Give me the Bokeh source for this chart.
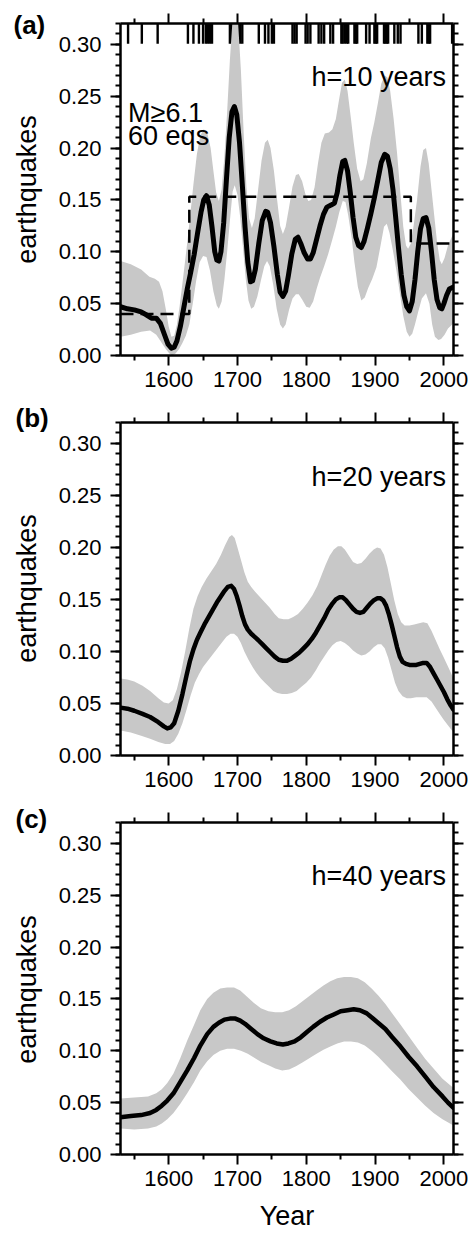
import math
from bokeh.plotting import figure
from bokeh.layouts import column, row
from bokeh.models import LinearAxis, FixedTicker, PrintfTickFormatter, Label
from bokeh.core.properties import value
from bokeh.embed import file_html
from bokeh.resources import INLINE

# ---------------- data ----------------
events = [1541, 1561, 1584, 1628, 1636, 1644, 1650, 1654, 1657, 1660, 1663,
          1689, 1692, 1695, 1698, 1701, 1704, 1707, 1731, 1740, 1745, 1750,
          1753, 1780, 1783, 1786, 1799, 1802, 1806, 1818, 1822, 1826, 1835,
          1839, 1851, 1853, 1856, 1859, 1861, 1870, 1872, 1874, 1887, 1892,
          1899, 1901, 1903, 1913, 1915, 1917, 1919, 1928, 1933, 1937, 1963,
          1968, 1976, 1978, 1980, 2012]

step_years = [1530, 1630, 1952, 2008]
step_rates = [0.040, 0.153, 0.108]

curve_a_year = [1530, 1540, 1550, 1560, 1568, 1575, 1582, 1588, 1594, 1599, 1604, 1608,
                1612, 1617, 1622, 1627, 1632, 1637, 1642, 1647, 1651, 1655, 1659, 1663,
                1667, 1670, 1673, 1676, 1680, 1684, 1688, 1692, 1695.5, 1699, 1703, 1707,
                1711, 1715, 1719, 1722, 1726, 1731, 1736, 1741, 1744, 1748, 1753, 1758,
                1762, 1766, 1770, 1774, 1779, 1784, 1788, 1792, 1797, 1802, 1806, 1810,
                1815, 1820, 1825, 1830, 1836, 1841, 1845, 1849, 1853, 1856, 1860, 1864,
                1868, 1872, 1876, 1880, 1884, 1889, 1894, 1899, 1904, 1909, 1914, 1918,
                1922, 1926, 1930, 1934, 1938, 1942, 1946, 1950, 1954, 1958, 1962, 1966,
                1970, 1974, 1978, 1982, 1986, 1990, 1994, 1997, 2000, 2004, 2008, 2014]
curve_a_val = [0.047, 0.045, 0.044, 0.042, 0.039, 0.036, 0.036, 0.031, 0.020, 0.011, 0.007, 0.008,
               0.014, 0.028, 0.046, 0.064, 0.080, 0.097, 0.118, 0.138, 0.150, 0.154, 0.145, 0.124,
               0.100, 0.092, 0.091, 0.100, 0.128, 0.170, 0.210, 0.235, 0.240, 0.232, 0.205, 0.165,
               0.124, 0.090, 0.071, 0.072, 0.083, 0.108, 0.130, 0.139, 0.138, 0.128, 0.105, 0.078,
               0.061, 0.057, 0.062, 0.077, 0.098, 0.112, 0.114, 0.108, 0.099, 0.093, 0.093, 0.099,
               0.112, 0.125, 0.136, 0.143, 0.145, 0.147, 0.157, 0.174, 0.187, 0.188, 0.178, 0.157,
               0.133, 0.114, 0.106, 0.104, 0.110, 0.123, 0.137, 0.152, 0.169, 0.186, 0.194, 0.192,
               0.180, 0.160, 0.133, 0.104, 0.078, 0.058, 0.047, 0.043, 0.052, 0.073, 0.100, 0.122,
               0.132, 0.133, 0.123, 0.100, 0.073, 0.054, 0.046, 0.045, 0.050, 0.058, 0.064, 0.066]
upper_a_year = [1530, 1545, 1560, 1572, 1580, 1586, 1591, 1596, 1600, 1604, 1608, 1612,
                1616, 1621, 1626, 1631, 1636, 1641, 1646, 1651, 1656, 1661, 1665, 1669,
                1673, 1677, 1681, 1685, 1689, 1693, 1697, 1701, 1705, 1709, 1713, 1717,
                1721, 1725, 1730, 1735, 1740, 1744, 1748, 1753, 1758, 1762, 1766, 1770,
                1775, 1780, 1785, 1789, 1794, 1799, 1803, 1807, 1812, 1817, 1822, 1827,
                1833, 1838, 1843, 1848, 1852, 1856, 1860, 1865, 1869, 1874, 1879, 1883,
                1888, 1894, 1899, 1904, 1909, 1914, 1918, 1922, 1927, 1932, 1937, 1941,
                1945, 1948, 1952, 1956, 1961, 1966, 1970, 1974, 1978, 1982, 1986, 1990,
                1994, 1997, 2001, 2006, 2014]
upper_a_val = [0.091, 0.088, 0.083, 0.076, 0.074, 0.071, 0.062, 0.044, 0.028, 0.018, 0.019, 0.030,
               0.048, 0.075, 0.103, 0.133, 0.165, 0.194, 0.212, 0.218, 0.215, 0.200, 0.178, 0.157,
               0.149, 0.160, 0.192, 0.235, 0.285, 0.325, 0.335, 0.320, 0.275, 0.215, 0.163, 0.132,
               0.123, 0.132, 0.160, 0.188, 0.205, 0.208, 0.200, 0.178, 0.148, 0.125, 0.117, 0.124,
               0.143, 0.163, 0.174, 0.175, 0.168, 0.155, 0.149, 0.150, 0.162, 0.185, 0.205, 0.214,
               0.215, 0.218, 0.228, 0.248, 0.263, 0.266, 0.255, 0.228, 0.205, 0.180, 0.168, 0.170,
               0.185, 0.210, 0.225, 0.243, 0.262, 0.270, 0.268, 0.255, 0.228, 0.195, 0.155, 0.124,
               0.106, 0.103, 0.108, 0.125, 0.150, 0.182, 0.198, 0.200, 0.185, 0.160, 0.135, 0.110,
               0.092, 0.088, 0.094, 0.106, 0.118]
lower_a_year = [1530, 1545, 1560, 1573, 1582, 1590, 1596, 1601, 1605, 1610, 1615, 1620,
                1625, 1630, 1635, 1640, 1645, 1650, 1655, 1660, 1665, 1670, 1673, 1677,
                1681, 1685, 1689, 1693, 1696, 1700, 1704, 1708, 1712, 1716, 1720, 1724,
                1729, 1734, 1739, 1743, 1747, 1752, 1757, 1762, 1766, 1770, 1775, 1780,
                1785, 1789, 1794, 1800, 1805, 1810, 1815, 1820, 1826, 1832, 1838, 1843,
                1848, 1853, 1857, 1861, 1866, 1870, 1875, 1880, 1885, 1890, 1896, 1902,
                1908, 1913, 1917, 1921, 1926, 1931, 1936, 1941, 1946, 1950, 1954, 1958,
                1963, 1968, 1974, 1979, 1983, 1987, 1992, 1996, 2001, 2006, 2014]
lower_a_val = [0.018, 0.020, 0.023, 0.024, 0.020, 0.012, 0.006, 0.002, 0.000, 0.002, 0.006, 0.012,
               0.019, 0.030, 0.050, 0.072, 0.090, 0.096, 0.095, 0.082, 0.062, 0.048, 0.045, 0.052,
               0.073, 0.100, 0.130, 0.158, 0.164, 0.155, 0.133, 0.104, 0.074, 0.053, 0.045, 0.047,
               0.057, 0.072, 0.086, 0.091, 0.086, 0.068, 0.045, 0.030, 0.026, 0.030, 0.044, 0.055,
               0.059, 0.059, 0.054, 0.047, 0.046, 0.052, 0.064, 0.075, 0.086, 0.098, 0.112, 0.124,
               0.138, 0.149, 0.148, 0.135, 0.113, 0.090, 0.066, 0.053, 0.056, 0.065, 0.074, 0.085,
               0.106, 0.124, 0.127, 0.118, 0.101, 0.082, 0.060, 0.038, 0.023, 0.018, 0.021, 0.030,
               0.043, 0.055, 0.060, 0.050, 0.030, 0.018, 0.015, 0.016, 0.020, 0.026, 0.031]

curve_b_year = [1530, 1540, 1550, 1562, 1573, 1585, 1593, 1598, 1603, 1608, 1614, 1620,
                1626, 1631, 1636, 1641, 1646, 1652, 1658, 1664, 1670, 1676, 1681, 1686,
                1691, 1695, 1699, 1703, 1707, 1711, 1715, 1720, 1725, 1730, 1736, 1742,
                1748, 1754, 1760, 1766, 1772, 1778, 1784, 1790, 1796, 1802, 1808, 1814,
                1820, 1826, 1832, 1838, 1843, 1848, 1853, 1858, 1863, 1868, 1873, 1878,
                1883, 1888, 1893, 1898, 1903, 1908, 1912, 1916, 1920, 1924, 1928, 1932,
                1936, 1940, 1945, 1950, 1955, 1960, 1965, 1970, 1975, 1980, 1985, 1990,
                1995, 2000, 2005, 2010, 2014]
curve_b_val = [0.046, 0.045, 0.043, 0.040, 0.037, 0.032, 0.028, 0.026, 0.027, 0.031, 0.043, 0.059,
               0.077, 0.091, 0.102, 0.111, 0.118, 0.126, 0.133, 0.140, 0.147, 0.153, 0.158, 0.162,
               0.163, 0.160, 0.153, 0.144, 0.134, 0.126, 0.121, 0.117, 0.114, 0.111, 0.107, 0.103,
               0.099, 0.095, 0.092, 0.091, 0.091, 0.093, 0.096, 0.099, 0.103, 0.107, 0.112, 0.118,
               0.125, 0.132, 0.140, 0.146, 0.150, 0.152, 0.152, 0.149, 0.145, 0.141, 0.138, 0.137,
               0.138, 0.142, 0.146, 0.149, 0.151, 0.151, 0.149, 0.144, 0.136, 0.126, 0.115, 0.104,
               0.095, 0.090, 0.088, 0.087, 0.087, 0.087, 0.088, 0.089, 0.089, 0.085, 0.079, 0.073,
               0.067, 0.061, 0.054, 0.048, 0.044]
upper_b_year = [1530, 1540, 1550, 1562, 1573, 1585, 1593, 1600, 1606, 1612, 1618, 1624,
                1630, 1636, 1642, 1648, 1655, 1662, 1669, 1676, 1682, 1688, 1692, 1696,
                1700, 1705, 1710, 1715, 1720, 1726, 1733, 1740, 1747, 1754, 1760, 1767,
                1774, 1781, 1788, 1795, 1802, 1809, 1816, 1822, 1828, 1834, 1840, 1846,
                1851, 1856, 1862, 1868, 1874, 1880, 1886, 1892, 1898, 1903, 1908, 1913,
                1918, 1923, 1928, 1933, 1938, 1943, 1950, 1957, 1964, 1970, 1976, 1982,
                1988, 1994, 2000, 2007, 2014]
upper_b_val = [0.074, 0.073, 0.071, 0.067, 0.062, 0.055, 0.051, 0.050, 0.053, 0.064, 0.080, 0.100,
               0.122, 0.141, 0.153, 0.162, 0.170, 0.177, 0.184, 0.193, 0.202, 0.210, 0.212, 0.209,
               0.200, 0.188, 0.176, 0.167, 0.162, 0.157, 0.152, 0.147, 0.142, 0.136, 0.132, 0.131,
               0.131, 0.133, 0.136, 0.141, 0.147, 0.154, 0.163, 0.173, 0.183, 0.192, 0.198, 0.201,
               0.201, 0.198, 0.192, 0.186, 0.184, 0.185, 0.189, 0.194, 0.198, 0.200, 0.199, 0.193,
               0.181, 0.165, 0.149, 0.136, 0.128, 0.125, 0.125, 0.126, 0.127, 0.128, 0.127, 0.120,
               0.111, 0.102, 0.094, 0.084, 0.074]
lower_b_year = [1530, 1545, 1560, 1573, 1585, 1595, 1602, 1608, 1614, 1620, 1626, 1632,
                1638, 1644, 1650, 1657, 1664, 1671, 1678, 1684, 1690, 1695, 1700, 1705,
                1710, 1716, 1722, 1728, 1734, 1740, 1746, 1752, 1758, 1765, 1772, 1779,
                1786, 1793, 1800, 1807, 1814, 1820, 1826, 1832, 1838, 1844, 1850, 1856,
                1862, 1868, 1874, 1880, 1886, 1892, 1898, 1904, 1909, 1914, 1919, 1924,
                1929, 1934, 1940, 1946, 1952, 1960, 1968, 1975, 1982, 1988, 1994, 2000,
                2007, 2014]
lower_b_val = [0.024, 0.022, 0.019, 0.016, 0.013, 0.011, 0.011, 0.014, 0.021, 0.031, 0.044, 0.058,
               0.070, 0.078, 0.085, 0.091, 0.097, 0.103, 0.109, 0.114, 0.117, 0.117, 0.114, 0.108,
               0.100, 0.092, 0.085, 0.079, 0.074, 0.070, 0.066, 0.062, 0.060, 0.059, 0.059, 0.060,
               0.062, 0.066, 0.070, 0.075, 0.082, 0.089, 0.095, 0.101, 0.106, 0.109, 0.110, 0.108,
               0.105, 0.101, 0.098, 0.096, 0.097, 0.100, 0.104, 0.107, 0.107, 0.103, 0.094, 0.082,
               0.070, 0.062, 0.057, 0.055, 0.055, 0.056, 0.056, 0.056, 0.052, 0.046, 0.040, 0.034,
               0.028, 0.022]

curve_c_year = [1530, 1545, 1560, 1573, 1582, 1590, 1598, 1607, 1617, 1627, 1637, 1646,
                1656, 1665, 1673, 1681, 1689, 1697, 1704, 1711, 1720, 1729, 1738, 1748,
                1757, 1766, 1774, 1783, 1792, 1801, 1810, 1820, 1830, 1840, 1850, 1860,
                1869, 1878, 1888, 1897, 1906, 1915, 1925, 1937, 1949, 1961, 1973, 1985,
                1998, 2006, 2014]
curve_c_val = [0.036, 0.037, 0.038, 0.040, 0.043, 0.047, 0.052, 0.059, 0.070, 0.081, 0.093, 0.105,
               0.116, 0.123, 0.127, 0.130, 0.131, 0.131, 0.129, 0.126, 0.121, 0.116, 0.112, 0.109,
               0.107, 0.106, 0.107, 0.109, 0.113, 0.118, 0.123, 0.128, 0.132, 0.135, 0.138, 0.139,
               0.140, 0.139, 0.136, 0.131, 0.126, 0.121, 0.113, 0.104, 0.094, 0.085, 0.075, 0.065,
               0.056, 0.050, 0.045]
upper_c_year = [1530, 1550, 1570, 1582, 1590, 1598, 1607, 1617, 1627, 1637, 1646, 1656,
                1665, 1675, 1685, 1695, 1704, 1714, 1724, 1734, 1745, 1755, 1765, 1775,
                1785, 1795, 1805, 1815, 1825, 1835, 1845, 1855, 1865, 1875, 1885, 1895,
                1905, 1915, 1925, 1937, 1949, 1961, 1973, 1985, 1998, 2014]
upper_c_val = [0.054, 0.055, 0.056, 0.059, 0.063, 0.069, 0.078, 0.093, 0.110, 0.125, 0.139, 0.150,
               0.156, 0.160, 0.161, 0.161, 0.158, 0.152, 0.146, 0.141, 0.138, 0.137, 0.137, 0.139,
               0.143, 0.148, 0.153, 0.158, 0.163, 0.167, 0.170, 0.171, 0.171, 0.170, 0.166, 0.160,
               0.153, 0.145, 0.136, 0.125, 0.114, 0.103, 0.092, 0.083, 0.073, 0.064]
lower_c_year = [1530, 1550, 1570, 1582, 1590, 1598, 1607, 1617, 1627, 1637, 1646, 1656,
                1665, 1675, 1685, 1695, 1705, 1715, 1725, 1735, 1745, 1755, 1765, 1775,
                1785, 1795, 1805, 1815, 1825, 1835, 1845, 1855, 1865, 1875, 1885, 1895,
                1905, 1915, 1925, 1937, 1949, 1961, 1973, 1985, 1998, 2014]
lower_c_val = [0.025, 0.024, 0.025, 0.027, 0.030, 0.034, 0.040, 0.049, 0.059, 0.070, 0.081, 0.090,
               0.096, 0.100, 0.102, 0.102, 0.100, 0.097, 0.093, 0.089, 0.086, 0.083, 0.081, 0.082,
               0.085, 0.089, 0.093, 0.097, 0.101, 0.104, 0.107, 0.109, 0.109, 0.108, 0.105, 0.100,
               0.094, 0.087, 0.080, 0.072, 0.063, 0.055, 0.047, 0.040, 0.034, 0.028]

panel_tags = ["(a)", "(b)", "(c)"]
bandwidth_labels = ["h=10 years", "h=20 years", "h=40 years"]
y_title = "earthquakes"
x_title = "Year"
x_major = [1600, 1700, 1800, 1900, 2000]
x_minor = [1550, 1650, 1750, 1850, 1950]
y_major = [0.00, 0.05, 0.10, 0.15, 0.20, 0.25, 0.30]
y_minor = [i / 100 for i in range(0, 33)]

# ---------------- layout / style constants ----------------
FONT = "Liberation Sans"
BAND = "#c8c8c8"
SIDE_W = 50                      # left strip holding panel tags and y titles
TAG_X = [13, 15, 15]             # px from page left
TAG_BASE = [24, 417, 818]        # px from page top
YTITLE_X = 26
YTITLE_Y = [189, 588, 989]


def style_axis(ax, labels=True, size="22px"):
    ax.axis_line_width = 2.5
    ax.axis_line_color = "black"
    ax.major_tick_line_width = 2
    ax.minor_tick_line_width = 2
    ax.major_tick_line_color = "black"
    ax.minor_tick_line_color = "black"
    ax.major_tick_out = 10
    ax.major_tick_in = 0
    ax.minor_tick_out = 5
    ax.minor_tick_in = 0
    ax.major_label_text_font = FONT
    ax.major_label_text_color = "black"
    ax.axis_label_text_font = FONT
    ax.axis_label_text_font_style = "normal"
    ax.axis_label_text_color = "black"
    ax.axis_label_text_font_size = "27px"
    if labels:
        ax.major_label_text_font_size = size
    else:
        ax.major_label_text_font_size = "0px"
        ax.major_label_standoff = 0


def make_panel(idx, cy, cv, uy, uv, ly, lv, height, top, bottom, lw, last=False):
    p = figure(width=476 - SIDE_W, height=height, x_range=(1530, 2014), y_range=(0, 0.32),
               output_backend="svg", toolbar_location=None,
               min_border_left=120 - SIDE_W, min_border_right=23,
               min_border_top=top, min_border_bottom=bottom)
    p.grid.visible = False
    p.outline_line_color = None
    p.background_fill_color = "white"
    p.border_fill_color = "white"

    p.xaxis.ticker = FixedTicker(ticks=x_major, minor_ticks=x_minor)
    p.yaxis.ticker = FixedTicker(ticks=y_major, minor_ticks=y_minor)
    p.yaxis.formatter = PrintfTickFormatter(format="%.2f")
    style_axis(p.xaxis[0])
    style_axis(p.yaxis[0])
    p.xaxis[0].major_label_standoff = 6
    p.yaxis[0].major_label_standoff = 9
    if last:
        p.xaxis[0].axis_label = x_title
        p.xaxis[0].axis_label_standoff = 12

    top_ax = LinearAxis(ticker=FixedTicker(ticks=x_major, minor_ticks=x_minor))
    style_axis(top_ax, labels=False)
    p.add_layout(top_ax, "above")
    right_ax = LinearAxis(ticker=FixedTicker(ticks=y_major, minor_ticks=y_minor))
    style_axis(right_ax, labels=False)
    p.add_layout(right_ax, "right")

    if idx == 0:
        p.segment(x0=events, x1=events, y0=[0.32] * len(events),
                  y1=[0.3005] * len(events), line_color="black", line_width=2.4)

    p.patch(x=uy + ly[::-1], y=uv + lv[::-1], fill_color=BAND, line_color=None)

    if idx == 0:
        sx, sy = [step_years[0]], [step_rates[0]]
        for i, r in enumerate(step_rates):
            if i > 0:
                sx.append(step_years[i]); sy.append(r)
            sx.append(step_years[i + 1]); sy.append(r)
        p.line(sx, sy, line_color="black", line_width=2.5, line_dash="13 7")

    p.line(cy, cv, line_color="black", line_width=lw, line_join="round", line_cap="round")

    p.add_layout(Label(x=2003, y=0.268, text=bandwidth_labels[idx], text_align="right",
                       text_baseline="alphabetic", text_font=FONT, text_font_size="27px",
                       text_color="black"))
    if idx == 0:
        p.add_layout(Label(x=1541, y=0.234, text="M≥6.1", text_font=FONT,
                           text_font_size="27px", text_baseline="alphabetic",
                           text_color="black"))
        p.add_layout(Label(x=1541, y=0.2115, text="60 eqs", text_font=FONT,
                           text_font_size="27px", text_baseline="alphabetic",
                           text_color="black"))
    return p


pa = make_panel(0, curve_a_year, curve_a_val, upper_a_year, upper_a_val,
                lower_a_year, lower_a_val, 400, 23, 45, 5)
pb = make_panel(1, curve_b_year, curve_b_val, upper_b_year, upper_b_val,
                lower_b_year, lower_b_val, 400, 22, 45, 4.5)
pc = make_panel(2, curve_c_year, curve_c_val, upper_c_year, upper_c_val,
                lower_c_year, lower_c_val, 434, 22, 80, 4.5, last=True)

# left strip: panel tags and the rotated y titles (page pixel coordinates)
side = figure(width=SIDE_W, height=1234, x_range=(0, SIDE_W), y_range=(1234, 0),
              output_backend="svg", toolbar_location=None,
              x_axis_type=None, y_axis_type=None, min_border=0)
side.outline_line_color = None
side.grid.visible = False
side.text(x=TAG_X, y=TAG_BASE, text=panel_tags, text_font=value(FONT),
          text_font_size=value("26px"), text_font_style=value("bold"),
          text_color="black", text_baseline="alphabetic", text_align="left")
side.text(x=[YTITLE_X] * 3, y=YTITLE_Y, text=[y_title] * 3, angle=math.pi / 2,
          text_font=value(FONT), text_font_size=value("27px"), text_color="black",
          text_baseline="middle", text_align="center")

layout = row(side, column(pa, pb, pc, spacing=0), spacing=0)
open("out.html", "w").write(file_html(layout, INLINE))
